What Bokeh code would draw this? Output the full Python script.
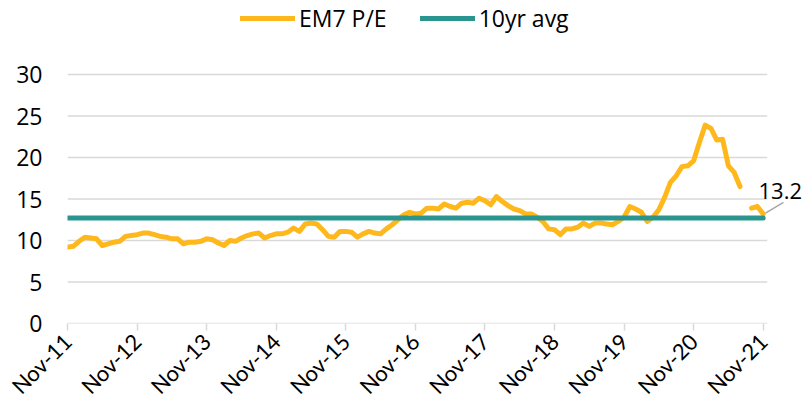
from math import pi
from bokeh.plotting import figure
from bokeh.models import (Range1d, FixedTicker, Legend, LegendItem, Label, Arrow,
                          ColumnDataSource)
from bokeh.embed import file_html
from bokeh.resources import INLINE

# ---- data (monthly, Nov-2011 .. Nov-2021) ----
tick_labels = ["Nov-11", "Nov-12", "Nov-13", "Nov-14", "Nov-15", "Nov-16",
               "Nov-17", "Nov-18", "Nov-19", "Nov-20", "Nov-21"]
em7_pe = [
    9.2, 9.3, 9.9, 10.4, 10.3, 10.2, 9.4, 9.6, 9.8, 9.9, 10.5, 10.6,      # Nov-11..Oct-12
    10.7, 10.9, 10.9, 10.7, 10.5, 10.4, 10.2, 10.2, 9.6, 9.8, 9.8, 9.9,   # Nov-12..Oct-13
    10.2, 10.1, 9.7, 9.4, 10.0, 9.9, 10.3, 10.6, 10.8, 10.9, 10.3, 10.6,  # Nov-13..Oct-14
    10.8, 10.8, 11.0, 11.5, 11.1, 12.0, 12.1, 12.0, 11.3, 10.5, 10.4, 11.1,  # Nov-14..Oct-15
    11.1, 11.0, 10.4, 10.8, 11.1, 10.9, 10.8, 11.4, 11.9, 12.5, 13.1, 13.4,  # Nov-15..Oct-16
    13.2, 13.3, 13.9, 13.9, 13.8, 14.4, 14.1, 13.9, 14.5, 14.6, 14.5, 15.1,  # Nov-16..Oct-17
    14.8, 14.3, 15.3, 14.7, 14.2, 13.8, 13.6, 13.2, 13.2, 12.8, 12.3, 11.4,  # Nov-17..Oct-18
    11.3, 10.7, 11.4, 11.4, 11.6, 12.1, 11.7, 12.1, 12.1, 12.0, 11.9, 12.3,  # Nov-18..Oct-19
    12.8, 14.1, 13.8, 13.4, 12.3, 12.8, 13.7, 15.2, 17.0, 17.8, 18.9, 19.0,  # Nov-19..Oct-20
    19.6, 21.8, 23.9, 23.5, 22.1, 22.2, 19.0, 18.2, 16.5, float("nan"), 13.9, 14.1,  # Nov-20..Oct-21
    13.2,                                                                   # Nov-21
]
avg_10yr = 12.7
last_label = "13.2"
y_ticks = [0, 5, 10, 15, 20, 25, 30]

months = list(range(len(em7_pe)))
avg_line = [avg_10yr] * len(em7_pe)

YELLOW = "#FFB81C"
TEAL = "#2A958F"
GRID = "#D9D9D9"
FONT = "Open Sans"

X_END = 120.7          # right end of the plotting area (axis / grid lines)

p = figure(width=804, height=414, output_backend="svg", toolbar_location=None,
           x_range=Range1d(0, 127.13), y_range=Range1d(0, 38.92),
           min_border_left=67, min_border_right=0, min_border_top=0,
           min_border_bottom=91)
p.outline_line_color = None
p.background_fill_color = "white"
p.border_fill_color = "white"

# horizontal grid lines + baseline, limited to the plotting area
p.segment(x0=[0] * len(y_ticks), x1=[X_END] * len(y_ticks), y0=y_ticks, y1=y_ticks,
          line_color=GRID, line_width=1.5)

src = ColumnDataSource(dict(x=months, pe=em7_pe, avg=avg_line))
r_pe = p.line("x", "pe", source=src, line_color=YELLOW, line_width=5,
              line_join="round", line_cap="round")
r_avg = p.line("x", "avg", source=src, line_color=TEAL, line_width=5,
               line_cap="round")

# axes
p.xaxis.ticker = FixedTicker(ticks=[12 * i for i in range(len(tick_labels))])
p.xaxis.major_label_overrides = {12 * i: t for i, t in enumerate(tick_labels)}
p.xaxis.major_label_orientation = pi / 4
p.xaxis.axis_line_color = None
p.xaxis.major_tick_line_color = GRID
p.xaxis.major_tick_line_width = 1.5
p.xaxis.major_tick_in = 0
p.xaxis.major_tick_out = 7
p.xaxis.minor_tick_line_color = None
p.xaxis.major_label_text_font = "Lato"
p.xaxis.major_label_text_font_size = "22px"
p.xaxis.major_label_text_color = "#000000"
p.xaxis.major_label_standoff = 7

p.yaxis.ticker = FixedTicker(ticks=y_ticks)
p.yaxis.axis_line_color = None
p.yaxis.major_tick_line_color = None
p.yaxis.minor_tick_line_color = None
p.yaxis.major_tick_out = 0
p.yaxis.major_tick_in = 0
p.yaxis.major_label_standoff = 25
p.yaxis.major_label_text_font = FONT
p.yaxis.major_label_text_font_size = "23px"
p.yaxis.major_label_text_color = "#000000"

p.xgrid.grid_line_color = None
p.ygrid.grid_line_color = None

# legend
legend = Legend(items=[LegendItem(label="EM7 P/E", renderers=[r_pe]),
                       LegendItem(label="10yr avg", renderers=[r_avg])],
                orientation="horizontal", location=(173, 289),
                glyph_width=55, glyph_height=24, label_height=24,
                label_standoff=4, spacing=33, padding=0, margin=0,
                background_fill_alpha=0, border_line_color=None,
                label_text_font=FONT, label_text_font_size="23px",
                label_text_color="#000000")
p.add_layout(legend, "center")

# last-value label with leader line
p.add_layout(Arrow(end=None, x_start=120.4, y_start=13.3, x_end=123.5, y_end=14.6,
                   line_color="#A6A6A6", line_width=1.5))
p.add_layout(Label(x=119.2, y=16.0, text=last_label, text_font=FONT,
                   text_font_size="22px", text_color="#000000",
                   text_baseline="alphabetic"))

open("out.html", "w").write(file_html(p, INLINE))
